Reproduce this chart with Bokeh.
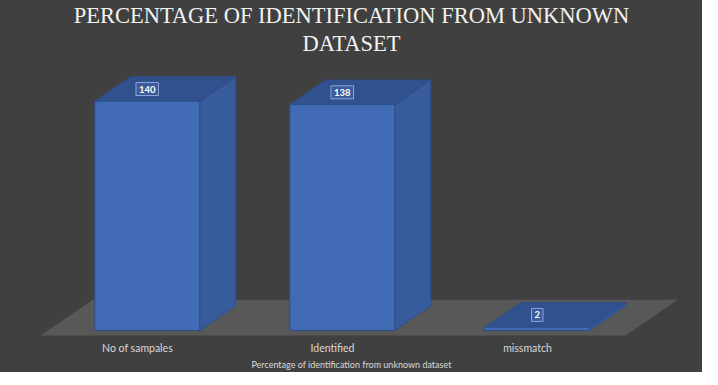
from bokeh.plotting import figure
from bokeh.models import Range1d, FixedTicker, Title
from bokeh.core.properties import value
from bokeh.embed import file_html
from bokeh.resources import INLINE

# ---- data ----
categories = ["No of sampales", "Identified", "missmatch"]
counts = [140, 138, 2]
title_lines = ["PERCENTAGE OF IDENTIFICATION FROM UNKNOWN", "DATASET"]
axis_title = "Percentage of identification from unknown dataset"

# ---- style / geometry constants ----
BG = "#404040"
FLOOR = "#585858"
FRONT = "#426bb5"
SIDE = "#385b9b"
TOP = "#30518e"
EDGE = "#2e4f8a"
SERIF = "'Liberation Serif', 'Times New Roman', serif"
DX = 0.185      # depth offset in category units
DY = 15.0       # depth offset in value units
HALF_W = 0.269  # half bar width (category units)
SHIFT = 0.05    # front face offset from tick

p = figure(frame_width=702, frame_height=276, output_backend="svg", toolbar_location=None,
           x_range=Range1d(-0.7026, 2.8974), y_range=Range1d(-4.89, 163.7),
           min_border_left=0, min_border_right=0, min_border_top=62, min_border_bottom=31,
           background_fill_color=None, border_fill_color=None,
           outline_line_color=None, title=None,
           styles={"background-color": BG})

# two-line centered title
for line, standoff in [(title_lines[1], 14), (title_lines[0], -12)]:
    t = Title(text=line, align="center", text_font=SERIF, text_font_size="22.5px",
              text_font_style="normal", text_color="#f2f2f2", standoff=standoff,
              text_line_height=0.85)
    p.add_layout(t, "above")

p.grid.visible = False
p.yaxis.visible = False

ax = p.xaxis[0]
ax.ticker = FixedTicker(ticks=list(range(len(categories))))
ax.major_label_overrides = {i: c for i, c in enumerate(categories)}
ax.axis_line_color = None
ax.major_tick_line_color = None
ax.minor_tick_line_color = None
ax.major_tick_out = 0
ax.major_tick_in = 0
ax.major_label_standoff = 3
ax.major_label_text_font = "Lato"
ax.major_label_text_font_size = "10.5px"
ax.major_label_text_color = "#d9d9d9"
ax.axis_label = axis_title
ax.axis_label_text_font = "Lato"
ax.axis_label_text_font_size = "9px"
ax.axis_label_text_font_style = "normal"
ax.axis_label_text_color = "#d9d9d9"
ax.axis_label_standoff = 2

n = len(categories)

# floor (3D platform)
fz0, fz1 = -0.2, 1.25
fx0, fx1 = -0.5 + 0.04, n - 0.5 + 0.04
p.patch([fx0 + fz0 * DX, fx1 + fz0 * DX, fx1 + fz1 * DX, fx0 + fz1 * DX],
        [fz0 * DY, fz0 * DY, fz1 * DY, fz1 * DY],
        fill_color=FLOOR, line_color=None)

# 3D bars
side_xs, side_ys, top_xs, top_ys, front_xs, front_ys = [], [], [], [], [], []
for i, v in enumerate(counts):
    x0 = i + SHIFT - HALF_W
    x1 = i + SHIFT + HALF_W
    front_xs.append([x0, x1, x1, x0]); front_ys.append([0, 0, v, v])
    side_xs.append([x1, x1 + DX, x1 + DX, x1]); side_ys.append([0, DY, v + DY, v])
    top_xs.append([x0, x1, x1 + DX, x0 + DX]); top_ys.append([v, v, v + DY, v + DY])

p.patches(side_xs, side_ys, fill_color=SIDE, line_color=EDGE, line_width=1)
p.patches(top_xs, top_ys, fill_color=TOP, line_color=EDGE, line_width=1)
p.patches(front_xs, front_ys, fill_color=FRONT, line_color=EDGE, line_width=1)

# data labels
lx = [i + SHIFT for i in range(n)]
ly = [v + DY * 0.5 for v in counts]
p.text(lx, ly, text=[str(v) for v in counts],
       text_font=value("Lato"), text_font_size="9.5px", text_font_style="bold",
       text_color="#ffffff", text_align="center", text_baseline="middle",
       background_fill_color="#3a5c9c", border_line_color="#8ea5d6",
       border_line_width=1, padding=3)

open("out.html", "w").write(file_html(p, INLINE))
